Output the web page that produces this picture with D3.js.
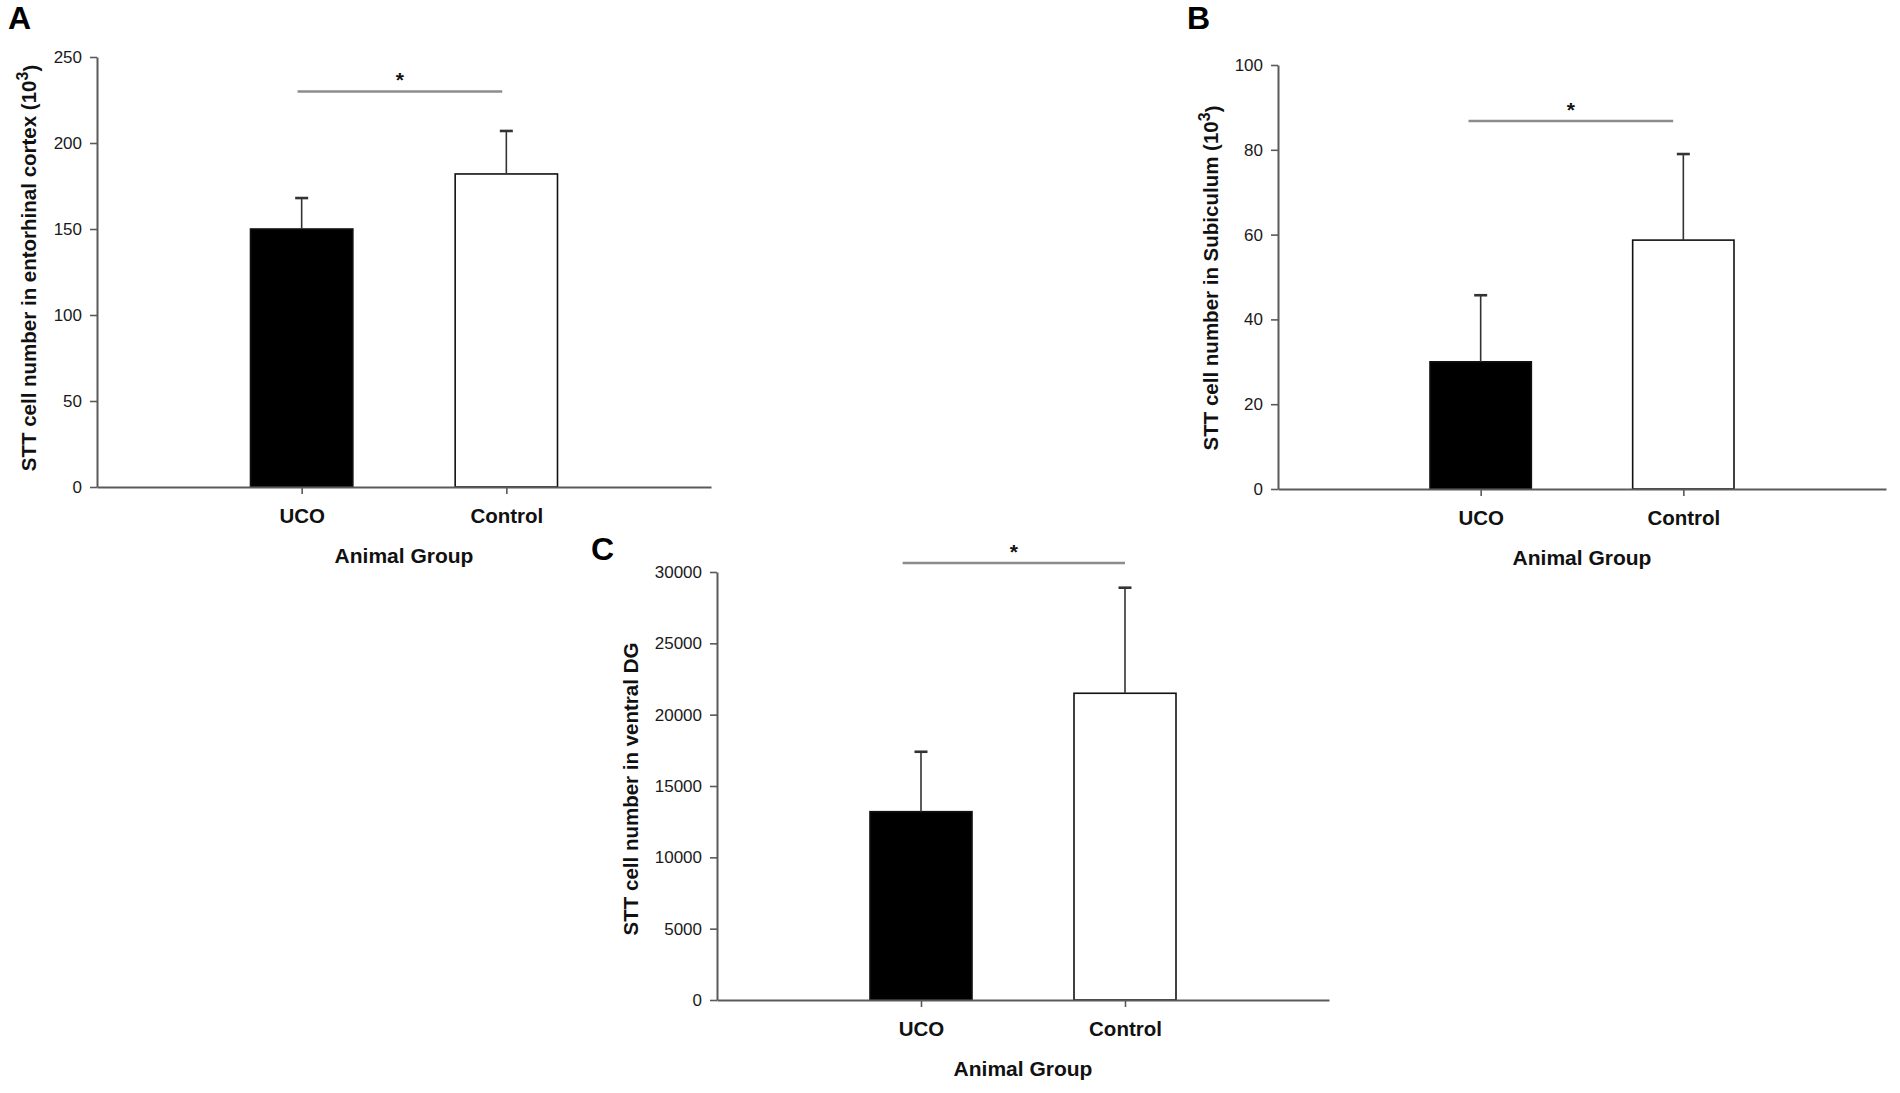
<!DOCTYPE html>
<html lang="en">
<head>
  <meta charset="UTF-8">
  <title>STT cell number</title>
  <script src="https://d3js.org/d3.v7.min.js"></script>
  <style>
    html, body { margin: 0; padding: 0; background: #fff; }
    svg { display: block; font-family: "Liberation Sans", Arial, sans-serif; }
  </style>
</head>
<body>
<svg id="fig" width="1900" height="1093"></svg>
<script>
// values
var groups = ["UCO", "Control"]
var groupFill = ["#000", "#fff"]

var entorhinalMean = [150, 182]
var entorhinalSem = [18, 25]
var entorhinalTicks = [0, 50, 100, 150, 200, 250]
var entorhinalSig = {from: 0.98, to: 1.98, y: 230}

var subiculumMean = [30, 58.7]
var subiculumSem = [15.7, 20.3]
var subiculumTicks = [0, 20, 40, 60, 80, 100]
var subiculumSig = {from: 0.94, to: 1.95, y: 86.8}

var dgMean = [13200, 21500]
var dgSem = [4200, 7400]
var dgTicks = [0, 5000, 10000, 15000, 20000, 25000, 30000]
var dgSig = {from: 0.91, to: 2.0, y: 30630}

// panel layout (pixels)
var panels = [
  {letter: "A", lx: 8, ly: 29, left: 97, right: 711, top: 57, bottom: 487,
   title: "STT cell number in entorhinal cortex (10", sup: true, tx: 36, ty: 268,
   mean: entorhinalMean, sem: entorhinalSem, ticks: entorhinalTicks, sig: entorhinalSig},
  {letter: "B", lx: 1187, ly: 29, left: 1278, right: 1886, top: 65, bottom: 489,
   title: "STT cell number in Subiculum (10", sup: true, tx: 1218, ty: 278,
   mean: subiculumMean, sem: subiculumSem, ticks: subiculumTicks, sig: subiculumSig},
  {letter: "C", lx: 591, ly: 560, left: 717, right: 1329, top: 572, bottom: 1000,
   title: "STT cell number in ventral DG", sup: false, tx: 638, ty: 789,
   mean: dgMean, sem: dgSem, ticks: dgTicks, sig: dgSig}
]

var svg = d3.select("#fig")
var axisColor = "#5a5a5a"

function drawPanel(p) {
  var x = d3.scaleLinear().domain([0, 3]).range([p.left, p.right])
  var y = d3.scaleLinear().domain([0, d3.max(p.ticks)]).range([p.bottom, p.top])
  var g = svg.append("g")

  // bars
  g.selectAll("rect.bar")
    .data(groups)
    .join("rect")
      .attr("class", "bar")
      .attr("x", (d, i) => x(i + 1 - 0.25))
      .attr("width", x(0.5) - x(0))
      .attr("y", (d, i) => y(p.mean[i]))
      .attr("height", (d, i) => y(0) - y(p.mean[i]))
      .attr("fill", (d, i) => groupFill[i])
      .attr("stroke", "#111")
      .attr("stroke-width", 1.6)

  // error bars (upper only)
  var err = g.selectAll("g.err").data(groups).join("g").attr("class", "err")
  err.append("line")
    .attr("x1", (d, i) => x(i + 1)).attr("x2", (d, i) => x(i + 1))
    .attr("y1", (d, i) => y(p.mean[i])).attr("y2", (d, i) => y(p.mean[i] + p.sem[i]))
    .attr("stroke", "#333").attr("stroke-width", 1.6)
  err.append("line")
    .attr("x1", (d, i) => x(i + 1) - 6.5).attr("x2", (d, i) => x(i + 1) + 6.5)
    .attr("y1", (d, i) => y(p.mean[i] + p.sem[i])).attr("y2", (d, i) => y(p.mean[i] + p.sem[i]))
    .attr("stroke", "#333").attr("stroke-width", 2.6)

  // y axis
  var ya = g.append("g")
    .attr("transform", `translate(${p.left},0)`)
    .call(d3.axisLeft(y).tickValues(p.ticks).tickFormat(d3.format("d")).tickSize(7).tickSizeOuter(0).tickPadding(8))
  ya.select(".domain").attr("stroke", axisColor).attr("stroke-width", 2)
  ya.selectAll(".tick line").attr("stroke", axisColor).attr("stroke-width", 1.6)
  ya.selectAll(".tick text").attr("fill", "#1a1a1a").attr("font-size", "17px")
    .attr("font-family", "Liberation Sans, Arial, sans-serif")

  // x axis
  var xa = g.append("g")
    .attr("transform", `translate(0,${p.bottom})`)
    .call(d3.axisBottom(x).tickValues([1, 2]).tickFormat(d => groups[d - 1]).tickSize(7).tickSizeOuter(0).tickPadding(14))
  xa.select(".domain").attr("stroke", axisColor).attr("stroke-width", 2)
  xa.selectAll(".tick line").attr("stroke", axisColor).attr("stroke-width", 1.6)
  xa.selectAll(".tick text").attr("fill", "#111").attr("font-size", "20.5px").attr("font-weight", "bold")
    .attr("font-family", "Liberation Sans, Arial, sans-serif")

  g.append("text")
    .attr("x", (p.left + p.right) / 2).attr("y", p.bottom + 76)
    .attr("text-anchor", "middle")
    .attr("font-size", "21px").attr("font-weight", "bold").attr("fill", "#111")
    .text("Animal Group")

  // y title
  var t = g.append("text")
    .attr("transform", `translate(${p.tx},${p.ty}) rotate(-90)`)
    .attr("text-anchor", "middle")
    .attr("font-size", "20.5px").attr("font-weight", "bold").attr("fill", "#111")
  t.append("tspan").text(p.title)
  if (p.sup) {
    t.append("tspan").attr("dy", "-0.5em").attr("font-size", "16px").text("3")
    t.append("tspan").attr("dy", "0.5em").text(")")
  }

  // significance line + star
  g.append("line")
    .attr("x1", x(p.sig.from)).attr("x2", x(p.sig.to))
    .attr("y1", y(p.sig.y)).attr("y2", y(p.sig.y))
    .attr("stroke", "#8c8c8c").attr("stroke-width", 2.5)
  g.append("text")
    .attr("x", (x(p.sig.from) + x(p.sig.to)) / 2).attr("y", y(p.sig.y) - 4)
    .attr("text-anchor", "middle")
    .attr("font-size", "21px").attr("font-weight", "bold").attr("fill", "#111")
    .text("*")

  // panel letter
  svg.append("text")
    .attr("x", p.lx).attr("y", p.ly)
    .attr("font-size", "32px").attr("font-weight", "bold").attr("fill", "#000")
    .text(p.letter)
}

panels.forEach(drawPanel)
</script>
</body>
</html>
